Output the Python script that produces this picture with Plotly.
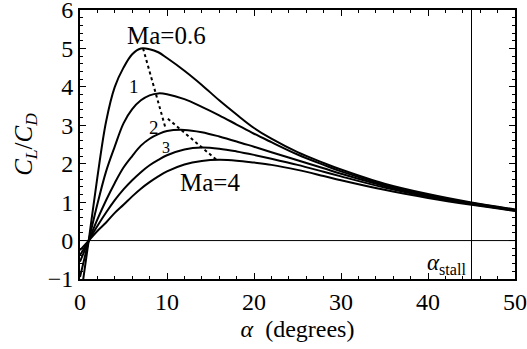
import plotly.graph_objects as go

alpha = [0, 1, 2, 3, 4, 5, 6, 7, 8, 9, 10, 12, 14, 16, 18, 20, 22, 25, 28, 30, 35, 40, 45, 50]
ld_ma06 = [-1.6, 0, 1.65, 3.1, 4.0, 4.5, 4.85, 5.0, 4.98, 4.9, 4.75, 4.42, 4.05, 3.65, 3.28, 2.93, 2.65, 2.30, 2.02, 1.85, 1.48, 1.21, 0.99, 0.81]
ld_ma1 = [-0.95, 0, 0.95, 1.8, 2.45, 3.05, 3.42, 3.65, 3.78, 3.83, 3.81, 3.68, 3.48, 3.26, 3.02, 2.78, 2.56, 2.24, 1.97, 1.80, 1.45, 1.18, 0.975, 0.80]
ld_ma2 = [-0.55, 0, 0.55, 1.05, 1.5, 1.9, 2.2, 2.47, 2.65, 2.77, 2.85, 2.88, 2.82, 2.71, 2.58, 2.44, 2.30, 2.09, 1.88, 1.74, 1.42, 1.16, 0.96, 0.79]
ld_ma3 = [-0.38, 0, 0.38, 0.73, 1.05, 1.33, 1.57, 1.78, 1.96, 2.1, 2.22, 2.37, 2.42, 2.39, 2.32, 2.23, 2.13, 1.97, 1.79, 1.67, 1.38, 1.14, 0.95, 0.78]
ld_ma4 = [-0.25, 0, 0.25, 0.47, 0.72, 0.93, 1.15, 1.35, 1.52, 1.67, 1.80, 1.98, 2.07, 2.10, 2.08, 2.03, 1.97, 1.84, 1.68, 1.57, 1.32, 1.11, 0.93, 0.77]
series = [ld_ma06, ld_ma1, ld_ma2, ld_ma3, ld_ma4]

max_alpha = [7.25, 9.8, None, 10.1, 15.7]
max_ld = [5.0, 2.95, None, 3.17, 2.1]

alpha_stall = 45

FONT = "Liberation Serif"

fig = go.Figure()
for s in series:
    fig.add_trace(go.Scatter(x=alpha, y=s, mode="lines", line=dict(color="black", width=2, shape="spline", smoothing=1.0),
                             showlegend=False, hoverinfo="skip"))
fig.add_trace(go.Scatter(x=max_alpha, y=max_ld, mode="lines", line=dict(color="black", width=2, dash="dot"),
                         showlegend=False, connectgaps=False, hoverinfo="skip"))

fig.add_shape(type="line", x0=alpha_stall, x1=alpha_stall, y0=-1, y1=6, line=dict(color="black", width=1))
fig.add_shape(type="line", x0=0, x1=50, y0=0, y1=0, line=dict(color="black", width=1))

annots = [
    (9.9, 5.34, "Ma=0.6", 25),
    (6.2, 4.0, "1", 19),
    (8.45, 2.93, "2", 19),
    (9.9, 2.41, "3", 16),
    (14.9, 1.52, "Ma=4", 25),
]
for x, y, t, sz in annots:
    fig.add_annotation(x=x, y=y, text=t, showarrow=False, font=dict(family=FONT, size=sz, color="black"))
fig.add_annotation(x=44.6, y=-0.6, text="<i>α</i><sub>stall</sub>", showarrow=False, xanchor="right",
                   font=dict(family=FONT, size=23, color="black"))

axis_common = dict(showline=True, linecolor="black", linewidth=2, mirror="allticks", ticks="inside",
                   tickcolor="black", tickwidth=1, ticklen=6, showgrid=False, zeroline=False, automargin=False,
                   ticklabeloverflow="allow",
                   tickfont=dict(family=FONT, size=24, color="black"))
fig.update_xaxes(range=[0, 50], dtick=10, tick0=0,
                 minor=dict(dtick=2, ticks="inside", ticklen=3, tickcolor="black", tickwidth=1),
                 title=dict(text="<i>α</i>  (degrees)", font=dict(family=FONT, size=24, color="black"), standoff=6),
                 **axis_common)
fig.update_yaxes(range=[-1, 6], dtick=1, tick0=0,
                 minor=dict(dtick=0.2, ticks="inside", ticklen=3, tickcolor="black", tickwidth=1),
                 title=dict(text="<i>C<sub>L</sub></i>/<i>C<sub>D</sub></i>", font=dict(family=FONT, size=25, color="black"), standoff=8),
                 **axis_common)
fig.update_layout(width=527, height=349, margin=dict(l=80, r=12, t=10, b=70),
                  plot_bgcolor="white", paper_bgcolor="white", font=dict(family=FONT, color="black"))
fig.write_html("out.html", config={"displayModeBar": False},
               post_script="document.body.style.margin='0';")
